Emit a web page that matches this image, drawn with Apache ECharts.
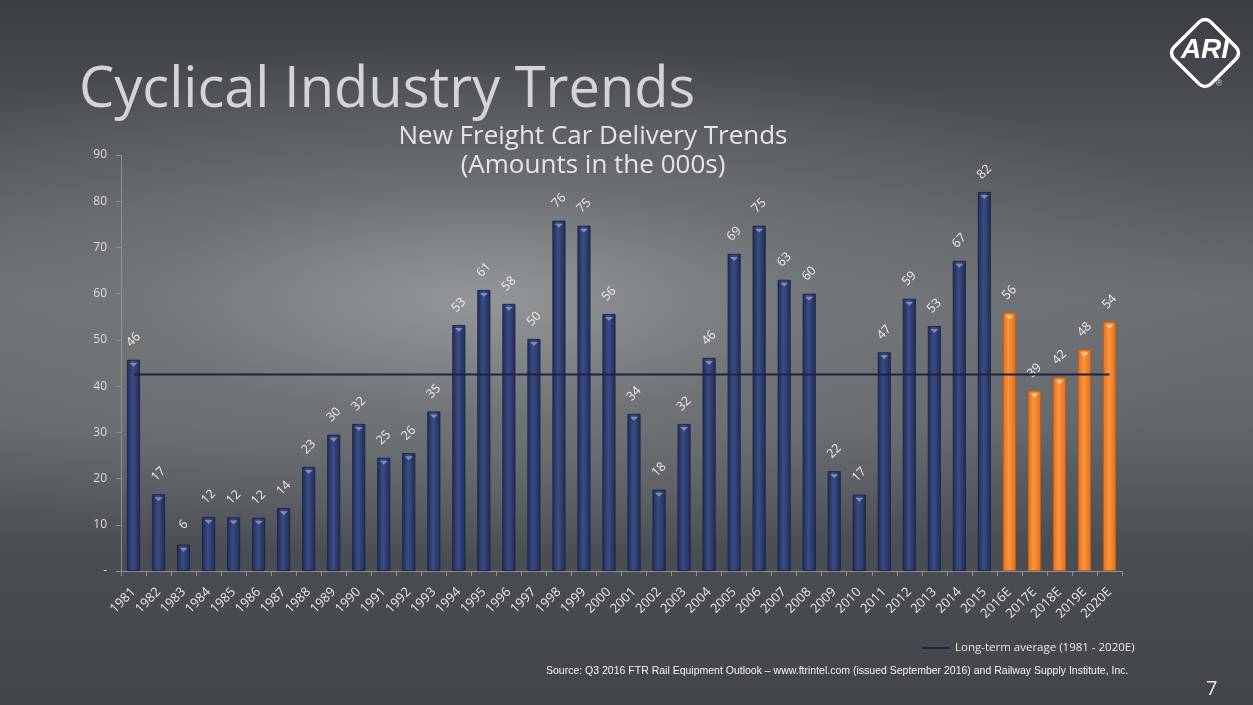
<!DOCTYPE html>
<html>
<head>
<meta charset="utf-8">
<script src="https://cdn.jsdelivr.net/npm/echarts@6/dist/echarts.min.js"></script>
<style>
html,body{margin:0;padding:0;width:1253px;height:705px;overflow:hidden;}
body{background:
 radial-gradient(ellipse 760px 260px at 480px 300px, rgba(150,153,156,0.95) 0%, rgba(120,123,126,0.6) 45%, rgba(70,73,77,0) 100%),
 linear-gradient(to bottom,#3a3d41 0%,#55585c 25%,#6c6f72 42%,#63666a 60%,#4a4d51 78%,#424549 100%);}
#c{width:1253px;height:705px;}
</style>
</head>
<body>
<div id="c"></div>
<script>
const categories = ['1981','1982','1983','1984','1985','1986','1987','1988','1989','1990','1991','1992','1993','1994','1995','1996','1997','1998','1999','2000','2001','2002','2003','2004','2005','2006','2007','2008','2009','2010','2011','2012','2013','2014','2015','2016E','2017E','2018E','2019E','2020E'];
const deliveries = [45.7,16.6,5.7,11.7,11.6,11.5,13.6,22.5,29.5,31.8,24.5,25.5,34.5,53.2,60.8,57.8,50.2,75.8,74.7,55.6,34.0,17.6,31.8,46.1,68.6,74.7,63.0,60.0,21.6,16.5,47.3,58.9,53.0,67.1,82.0,55.9,39.0,41.9,47.9,53.9];
const forecastFrom = '2016E';
const longTermAverage = 42.5;
const yTicks = [0,10,20,30,40,50,60,70,80,90];

const navy = {type:'linear',x:0,y:0,x2:1,y2:0,colorStops:[{offset:0,color:'#1f2c55'},{offset:0.45,color:'#3a4c85'},{offset:1,color:'#1f2c55'}]};
const orange = {type:'linear',x:0,y:0,x2:1,y2:0,colorStops:[{offset:0,color:'#e06d1e'},{offset:0.45,color:'#fb963a'},{offset:1,color:'#e06d1e'}]};
const fIdx = categories.indexOf(forecastFrom);

const chart = echarts.init(document.getElementById('c'), null, {renderer:'canvas'});
chart.setOption({
  backgroundColor:'transparent',
  animation:false,
  textStyle:{fontFamily:'Open Sans'},
  title:[
    {text:'Cyclical Industry Trends',left:74,top:58,textStyle:{color:'#d2d4d6',fontSize:56,fontWeight:'normal',fontFamily:'Open Sans'}},
    {text:'New Freight Car Delivery Trends\n(Amounts in the 000s)',left:588,top:117,textAlign:'center',textStyle:{color:'#e4e5e6',fontSize:26,fontWeight:'normal',lineHeight:29,fontFamily:'Open Sans'}}
  ],
  legend:{
    data:['Long-term average (1981 - 2020E)'],
    left:916, top:637, itemWidth:28, itemHeight:2, itemGap:4,
    textStyle:{color:'#e8e8e8',fontSize:11.5,fontFamily:'Open Sans'}
  },
  grid:{left:121,right:131,top:155,bottom:134,containLabel:false},
  xAxis:{
    type:'category', data:categories,
    axisLine:{lineStyle:{color:'#8e9094',width:1}},
    axisTick:{show:true,lineStyle:{color:'#8e9094'},length:5},
    axisLabel:{interval:0,rotate:45,color:'#e6e7e8',fontSize:13,margin:19,fontFamily:'Open Sans'}
  },
  yAxis:{
    type:'value', min:yTicks[0], max:yTicks[yTicks.length-1], interval:10,
    axisLine:{show:true,lineStyle:{color:'#8e9094'}},
    axisTick:{show:true,lineStyle:{color:'#8e9094'},length:5},
    splitLine:{show:false},
    axisLabel:{color:'#dcdddf',fontSize:12,margin:14,formatter:v=>v===0?'-':String(v),fontFamily:'Open Sans'}
  },
  series:[
    {
      type:'bar', name:'Deliveries', barWidth:'52%', barGap:'-100%',
      data:deliveries.map((v,i)=>({value:v,itemStyle:{color:i>=fIdx?orange:navy,borderColor:i>=fIdx?'#c85a14':'#18213f',borderWidth:0.8}})),
      label:{show:true,position:'top',distance:20,rotate:45,align:'center',verticalAlign:'middle',color:'#eaebec',fontSize:12.5,fontFamily:'Open Sans',formatter:p=>Math.round(p.value)}
    },
    {
      type:'pictorialBar', name:'cap', silent:true, z:3,
      symbol:'triangle', symbolRotate:180, symbolSize:[8,4], symbolPosition:'end', symbolOffset:[0,3],
      data:deliveries.map((v,i)=>({value:v,itemStyle:{color:i>=fIdx?'#ffc98a':'#7d8cc0'}}))
    },
    {
      type:'line', name:'Long-term average (1981 - 2020E)',
      data:categories.map(()=>longTermAverage),
      symbol:'none', z:5,
      lineStyle:{color:'#1d2440',width:2},
      itemStyle:{color:'#1d2440'}
    }
  ],
  graphic:[
    {type:'rect',x:1205,y:53,rotation:Math.PI/4,shape:{x:-26,y:-26,width:52,height:52,r:8},
      style:{fill:'transparent',stroke:'#ffffff',lineWidth:3.5}},
    {type:'text',x:1205,y:50,style:{text:'ARI',fill:'#ffffff',align:'center',verticalAlign:'middle',font:'italic bold 28px "Liberation Sans"'}},
    {type:'text',x:1219,y:84,style:{text:'®',fill:'#cfcfcf',align:'center',verticalAlign:'middle',font:'9px "Liberation Sans"'}},
    {type:'text',left:546,top:666,style:{text:'Source: Q3 2016 FTR Rail Equipment Outlook \u2013 www.ftrintel.com (issued September 2016) and Railway Supply Institute, Inc.',fill:'#f2f2f2',font:'10.5px "Liberation Sans"'}},
    {type:'text',left:1206,top:679,style:{text:'7',fill:'#e8e8e8',font:'20px "Open Sans"'}}
  ]
});
</script>
</body>
</html>
